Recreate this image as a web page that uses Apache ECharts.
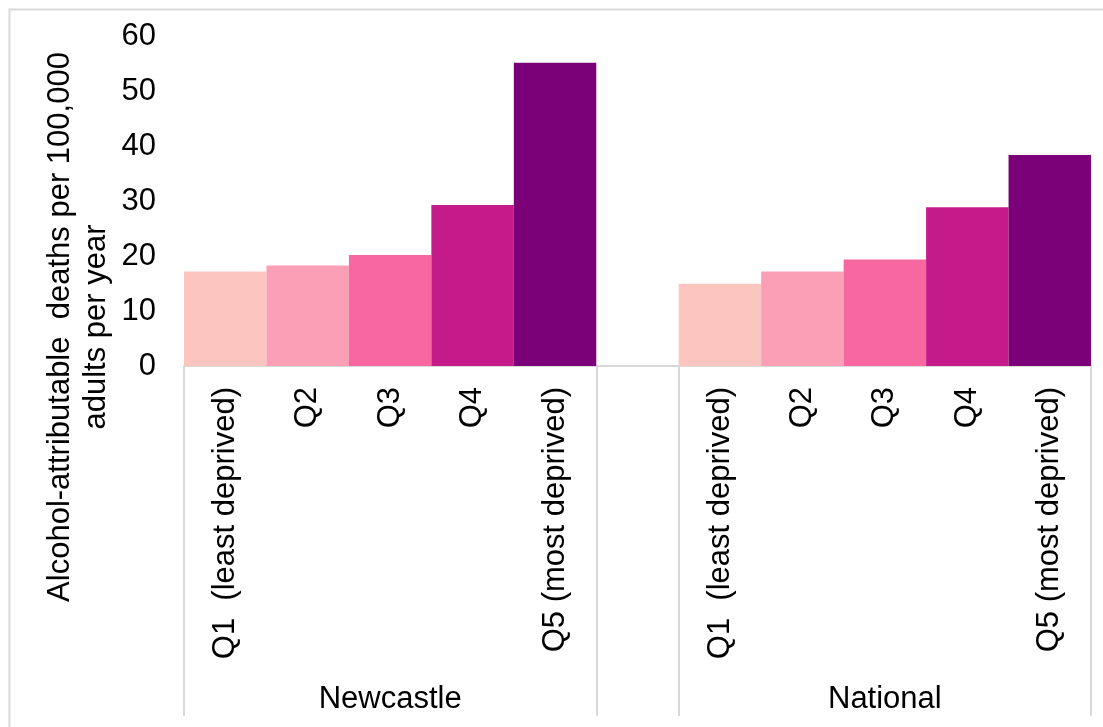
<!DOCTYPE html>
<html>
<head>
<meta charset="utf-8">
<script src="https://cdn.jsdelivr.net/npm/echarts@6/dist/echarts.min.js"></script>
<style>
html,body{margin:0;padding:0;background:#fff;}
#chart{width:1103px;height:727px;}
</style>
</head>
<body>
<div id="chart"></div>
<script>
const groups = ['Newcastle', 'National'];
const quintiles = ['Q1  (least deprived)', 'Q2', 'Q3', 'Q4', 'Q5 (most deprived)'];
const newcastle = [17.2, 18.3, 20.2, 29.3, 55.2];
const national = [15.0, 17.2, 19.4, 28.9, 38.4];
const quintileColors = ['#fcc5c0', '#fa9fb5', '#f768a1', '#c51b8a', '#7a0177'];
const yTitleLines = ['Alcohol-attributable  deaths per 100,000', 'adults per year'];
const yMin = 0, yMax = 60, yStep = 10;

// Build the category axis: group 1, one empty spacer slot, group 2
const cats = quintiles.concat([''], quintiles);
const groupAxis = cats.map(function (_, i) { return 'g' + i; });
const groupLabelAt = {2: groups[0], 8: groups[1]};
const barData = [];
newcastle.forEach(function (v, i) { barData.push({value: v, itemStyle: {color: quintileColors[i]}}); });
barData.push(null);
national.forEach(function (v, i) { barData.push({value: v, itemStyle: {color: quintileColors[i]}}); });

const FONT = 'Liberation Sans, Arial, sans-serif';
const chart = echarts.init(document.getElementById('chart'), null, {renderer: 'canvas'});
chart.setOption({
  animation: false,
  backgroundColor: '#fff',
  grid: {left: 184, right: 12, top: 36.5, bottom: 361, containLabel: false},
  xAxis: [
    {
      type: 'category',
      data: cats,
      position: 'bottom',
      axisLine: {show: false},
      axisTick: {show: false},
      axisLabel: {
        interval: 0, rotate: 90, margin: 21,
        fontSize: 31, fontFamily: FONT, color: '#000'
      }
    },
    {
      type: 'category',
      data: groupAxis,
      position: 'bottom',
      min: 0, max: cats.length - 1,
      axisLine: {show: true, lineStyle: {color: '#d9d9d9', width: 2}},
      axisTick: {
        show: true, length: 350,
        interval: function (idx) { return idx === 0 || idx === 5 || idx === 6; },
        lineStyle: {color: '#d9d9d9', width: 2}
      },
      axisLabel: {
        interval: function (idx) { return idx === 2 || idx === 8; },
        formatter: function (v, idx) { return groupLabelAt[idx] || ''; },
        margin: 318, fontSize: 31, fontFamily: FONT, color: '#000'
      }
    }
  ],
  yAxis: {
    type: 'value', min: yMin, max: yMax, interval: yStep,
    axisLine: {show: false}, axisTick: {show: false}, splitLine: {show: false},
    axisLabel: {margin: 28, fontSize: 31, fontFamily: FONT, color: '#000'}
  },
  series: [{
    type: 'bar',
    xAxisIndex: 0,
    data: barData,
    barCategoryGap: 0,
    barGap: 0
  }],
  graphic: [
    {
      type: 'rect', left: 7, top: 7, z: -1,
      shape: {x: 0, y: 0, width: 1110, height: 740},
      style: {fill: 'none', stroke: '#d9d9d9', lineWidth: 2}
    },
    {
      type: 'text', x: 78, y: 327, rotation: Math.PI / 2,
      style: {
        text: yTitleLines.join('\n'),
        fontSize: 31, fontFamily: FONT, fill: '#000',
        align: 'center', verticalAlign: 'middle', lineHeight: 36
      }
    }
  ]
});
</script>
</body>
</html>
